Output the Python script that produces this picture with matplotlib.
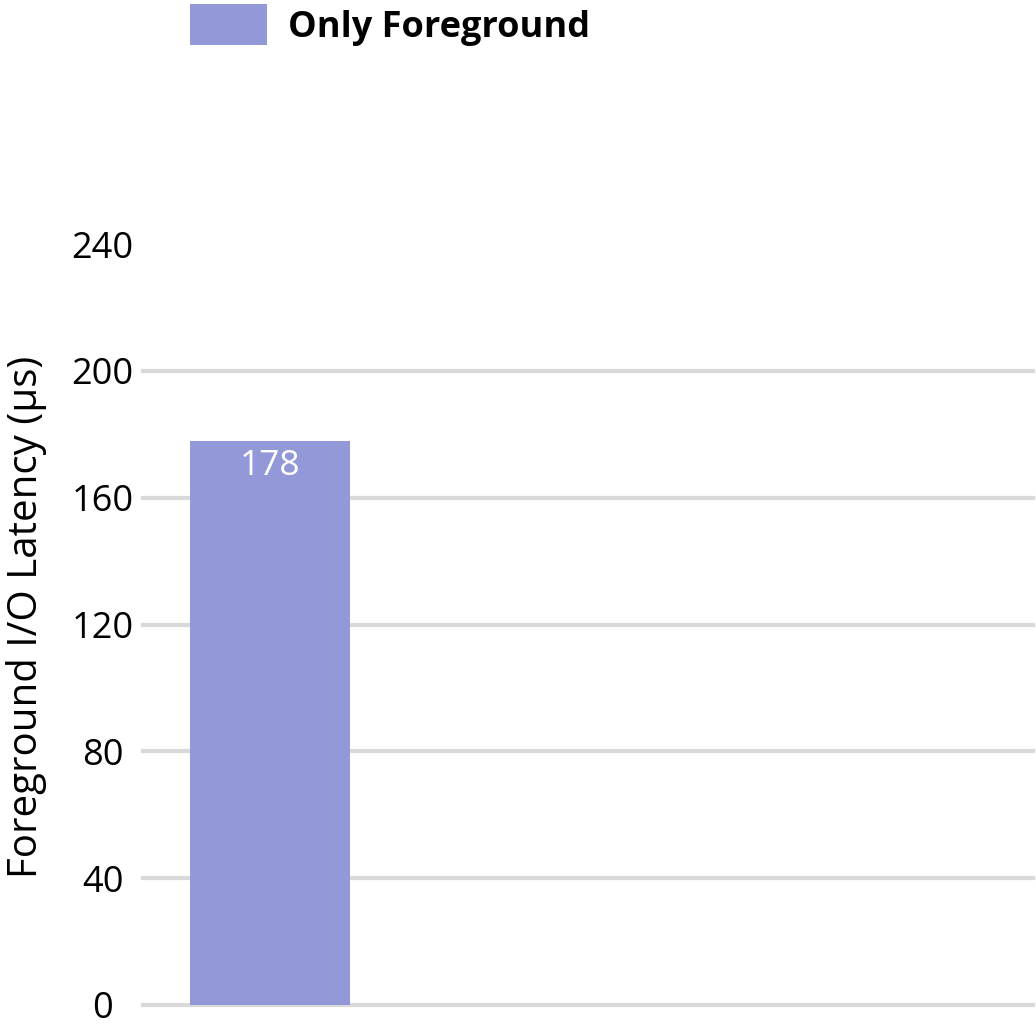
import matplotlib.pyplot as plt
from matplotlib.patches import Patch

# data
categories = ['Only Foreground']
latency = [178]
yticks = [0, 40, 80, 120, 160, 200, 240]

bar_color = '#9398d9'
grid_color = '#d9d9d9'

plt.rcParams['font.family'] = ['Open Sans', 'DejaVu Sans']

W, H = 1036, 1027
fig = plt.figure(figsize=(W / 100, H / 100), dpi=100)

# axes placed in pixel terms
left, right = 143, 1033
top, bottom = 244, 1005
ax = fig.add_axes([left / W, 1 - bottom / H, (right - left) / W, (bottom - top) / H])

# x in units of bar width (160 px)
unit = 160
x0 = (270 - left) / unit
ax.set_xlim(-x0, (right - left) / unit - x0)
ax.set_ylim(0, 240)

for t in yticks[:-1]:
    ax.axhline(t, color=grid_color, lw=3, zorder=1, clip_on=False)

bars = ax.bar(range(len(categories)), latency, width=1.0, color=bar_color, zorder=2)
for b, v in zip(bars, latency):
    ax.text(b.get_x() + b.get_width() / 2, v - 2.5, str(v), ha='center', va='top',
            color='white', fontsize=25.5, zorder=3)

for s in ax.spines.values():
    s.set_visible(False)
ax.set_xticks([])
ax.set_yticks(yticks)
ax.set_yticklabels([str(t) for t in yticks], ha='center', fontsize=26)
ax.tick_params(axis='y', length=0, pad=29)

fig.text(27 / W, 1 - 617 / H, 'Foreground I/O Latency (μs)', rotation=90,
         ha='center', va='center', fontsize=29)

handles = [Patch(facecolor=bar_color, edgecolor='none')]
fig.legend(handles, categories, loc='upper left', bbox_to_anchor=(190 / W, 1 - 4 / H),
           frameon=False, borderpad=0, borderaxespad=0, handlelength=2.13, handleheight=1.38,
           handletextpad=0.58, prop={'weight': 'bold', 'size': 26})

fig.savefig('out.png', dpi=100)
